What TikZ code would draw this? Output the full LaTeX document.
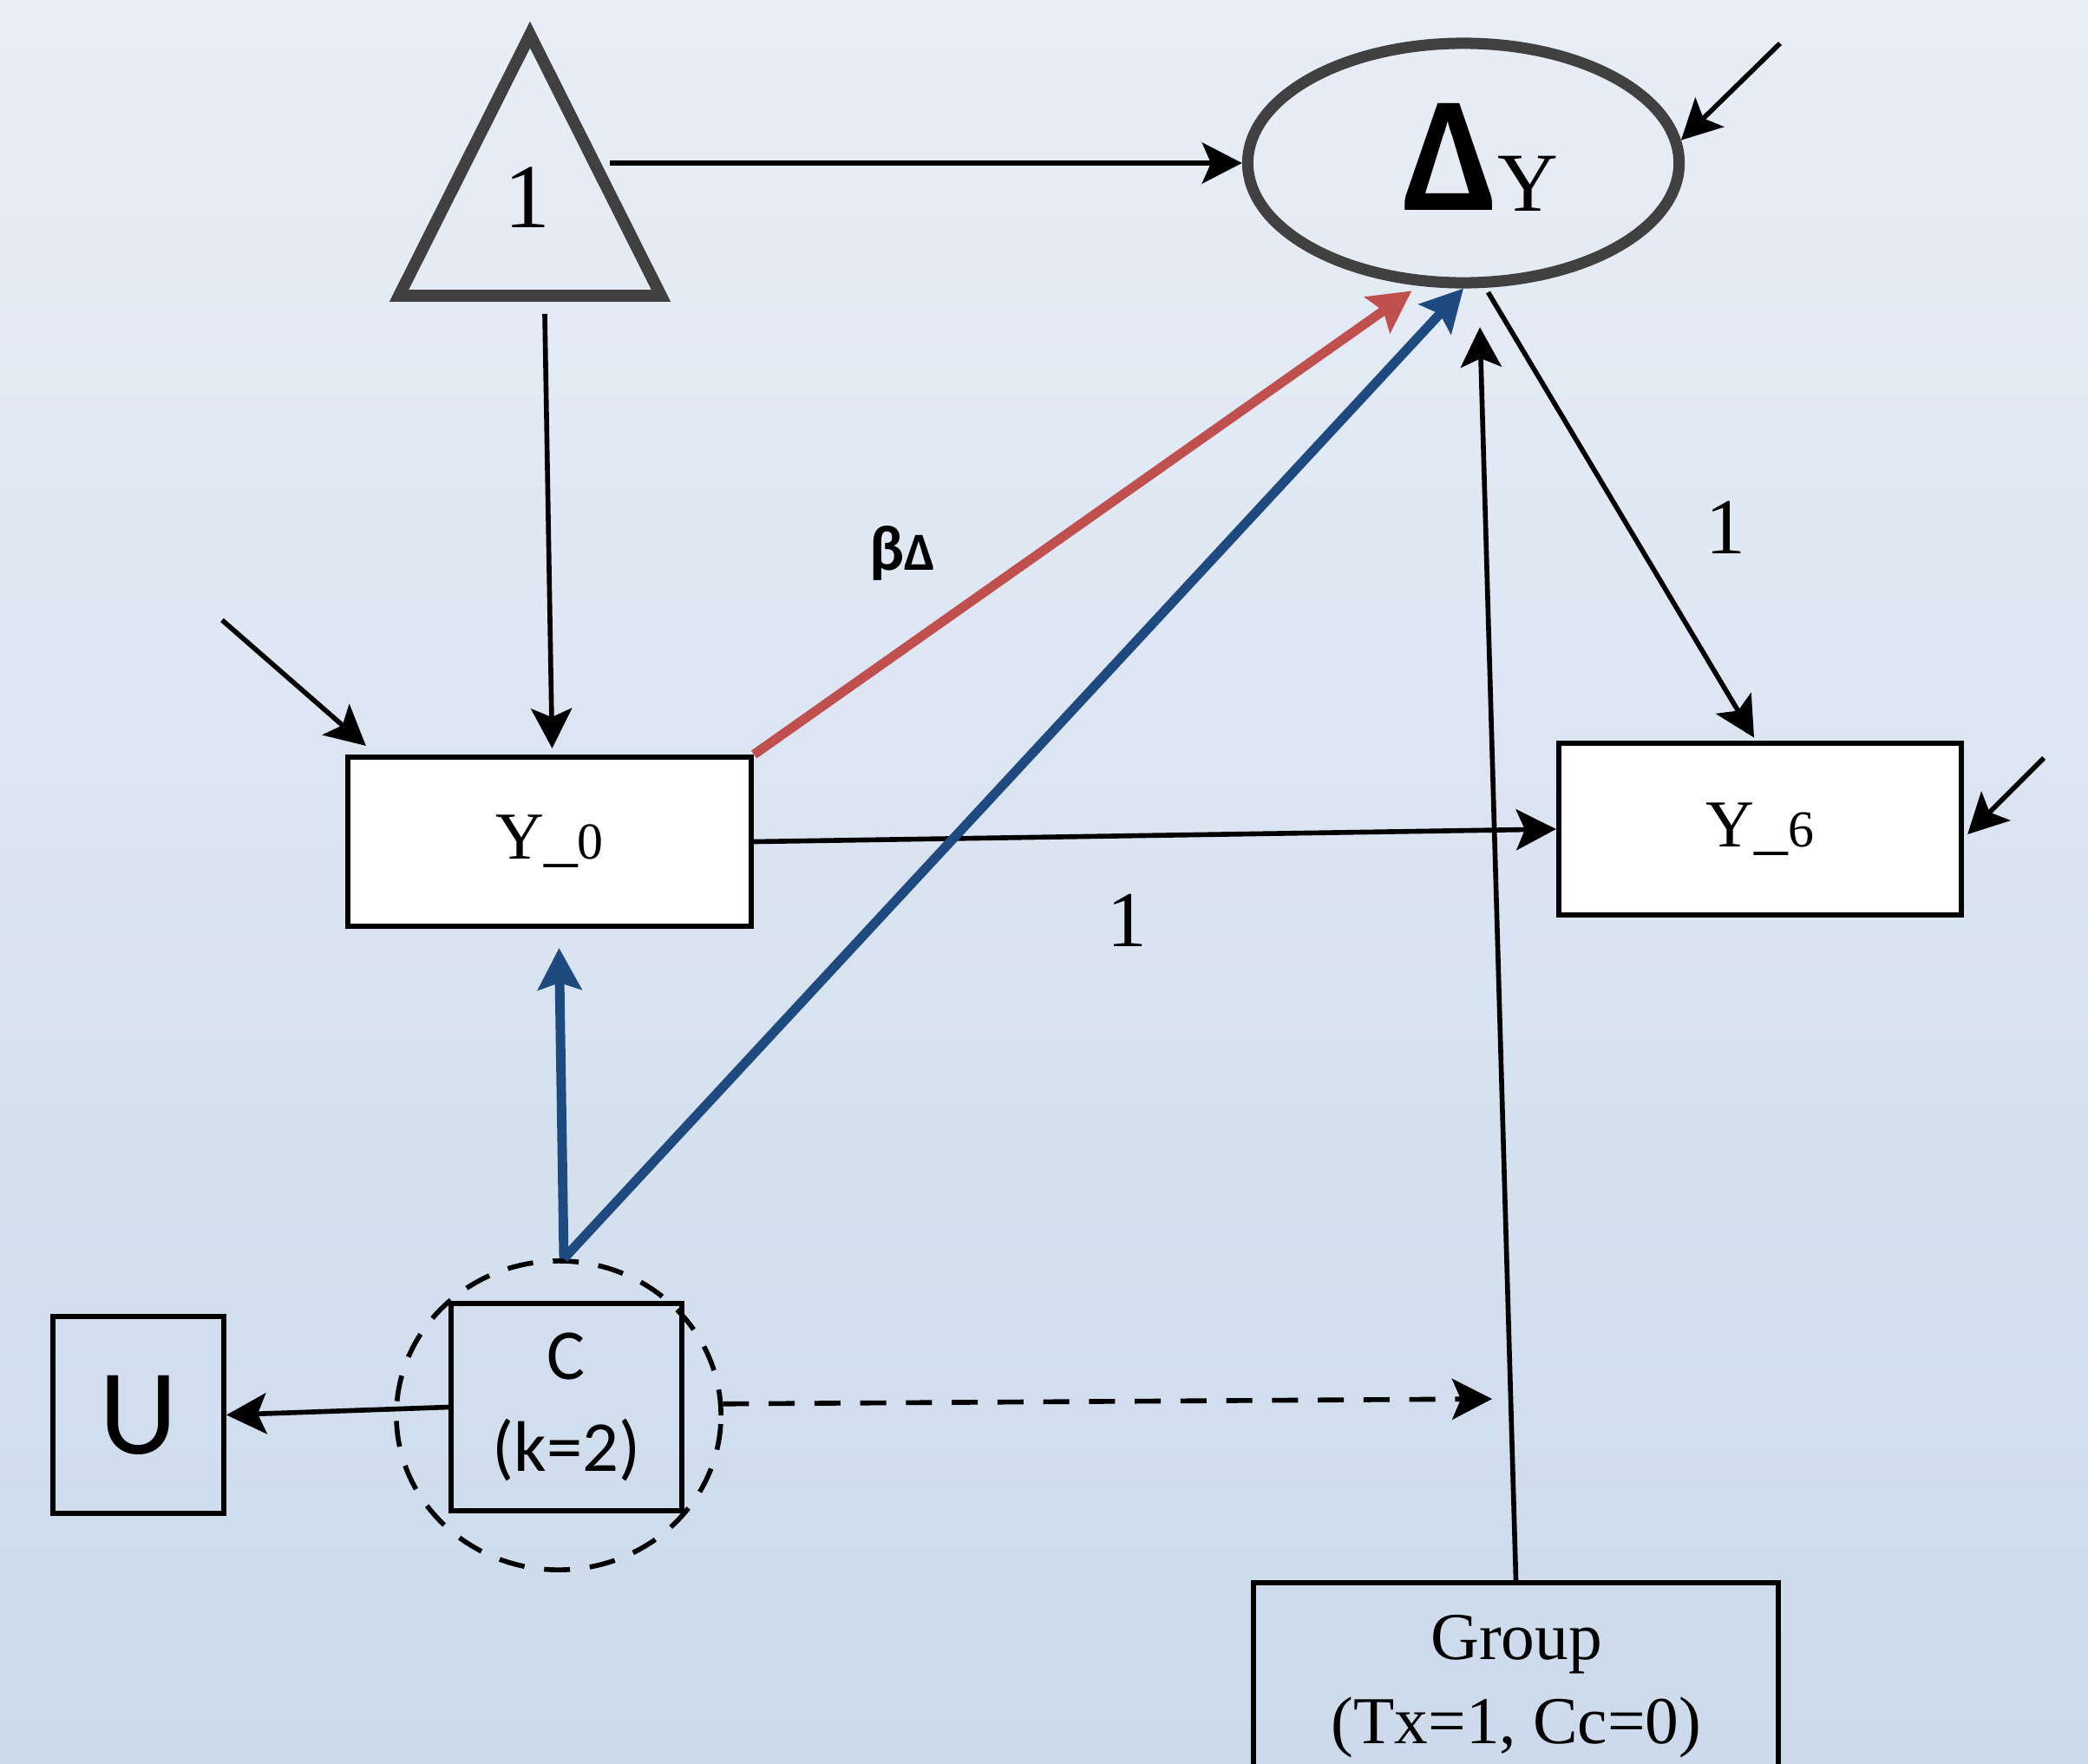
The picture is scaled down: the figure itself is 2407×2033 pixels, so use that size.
\documentclass[tikz,border=0pt]{standalone}
\usepackage{fontspec}
\setmainfont{Liberation Serif}
\newfontfamily\carlfont{Carlito}
\usetikzlibrary{arrows.meta,shapes.geometric,calc}
\definecolor{bgtop}{HTML}{E8EEF7}
\definecolor{bgbot}{HTML}{CCDAEB}
\definecolor{dgray}{HTML}{404040}
\definecolor{myblue}{HTML}{1F4A80}
\definecolor{myred}{HTML}{C0504D}
\newcommand\myfs[2]{\fontsize{#1}{#2}\selectfont}
\newcommand\ylab[1]{{\myfs{22}{22}Y\_}{\myfs{17}{17}#1}}
\tikzset{
  arr/.style={-{Stealth[length=0.46cm,width=0.47cm,inset=0.1cm]}, line width=1.6pt, black},
  barr/.style={-{Stealth[length=0.48cm,width=0.5cm,inset=0.08cm]}, line width=3.1pt, myblue},
  rarr/.style={-{Stealth[length=0.48cm,width=0.5cm,inset=0.08cm]}, line width=3.1pt, myred},
  boxnode/.style={draw, line width=1.7pt, inner sep=0pt},
  dsh/.style={dash pattern=on 8.5pt off 6.5pt},
}
\begin{document}
\begin{tikzpicture}[x=0.01cm,y=-0.01cm]
\useasboundingbox (0,0) rectangle (2407,2033);
\clip (0,0) rectangle (2407,2033);
\shade[top color=bgtop, bottom color=bgbot] (0,0) rectangle (2407,2033);

% triangle (constant 1)
\draw[dgray, line width=3.9pt, line join=miter] (611,40) -- (762,341) -- (460,341) -- cycle;
\node[anchor=base, font=\myfs{30}{30}] (tlab) at (608,262) {1};
\coordinate (ta) at (703,188);
\coordinate (tb) at (628,362);

% nodes
\node[ellipse, draw=dgray, line width=3.7pt, minimum width=4.97cm, minimum height=2.76cm, inner sep=0pt] (dy) at (1687,188) {};
\node[anchor=base, inner sep=0pt, font={\carlfont\bfseries\myfs{54}{54}}] (dlt) at (1672,242) {Δ};
\node[anchor=base, inner sep=0pt, font=\myfs{27.5}{27.5}] (dyy) at (1761,243) {Y};

\node[boxnode, fill=white, minimum width=4.65cm, minimum height=1.95cm] (y0) at (633.5,970.5) {\ylab{0}};
\node[boxnode, fill=white, minimum width=4.64cm, minimum height=1.97cm] (y6) at (2029,956) {\ylab{6}};
\node[boxnode, minimum width=1.97cm, minimum height=2.27cm, font={\carlfont\myfs{40}{40}}] (u) at (159.5,1631.5) {U};
\node[boxnode, minimum width=2.66cm, minimum height=2.39cm, align=center, font={\carlfont\myfs{23.5}{30}}] (c) at (653,1622.5) {C\\(k=2)};
\node[ellipse, draw, dsh, line width=1.6pt, minimum width=3.74cm, minimum height=3.56cm, inner sep=0pt] (cc) at (644,1632) {};
\node[boxnode, anchor=north, minimum width=6.05cm, minimum height=3cm] (grp) at (1747.5,1822) {};
\node[anchor=base, font=\myfs{22}{22}] (gt1) at (1748,1913) {Group};
\node[anchor=base, font=\myfs{22}{22}] (gt2) at (1748,2010) {(Tx=1, Cc=0)};

% labels
\node[anchor=base, inner sep=0pt] (beta) at (1040,657) {{\carlfont\bfseries\myfs{21}{21}β}{\carlfont\bfseries\myfs{17.6}{17.6}Δ}};
\node[anchor=base, font=\myfs{26}{26}] (l1) at (1299,1091) {1};
\node[anchor=base, font=\myfs{26}{26}] (l2) at (1989,638) {1};

% free ends
\coordinate (in1) at (256,715);
\coordinate (in2) at (2052,50);
\coordinate (in3) at (2356,874);
\coordinate (dtip) at (1720,1613);

% connectors
\draw[arr] (ta) -- (dy.west);
\draw[arr] (tb) -- ($(y0.north)+(3,-7)$);
\draw[arr] (in1) -- ($(y0.north west)+(24,-10)$);
\draw[arr] (in2) -- (dy.6);
\draw[arr] (in3) -- ($(y6.east)+(4,6)$);
\draw[arr] (y0.east) -- (y6.west);
\draw[arr, shorten <=0.06cm] (dy.280) -- ($(y6.north)+(-7,-4)$);
\draw[arr, shorten >=0.45cm] (grp.north) -- (dy.277);
\draw[arr] (c.west) -- (u.east);
\draw[arr, dsh] (cc.4) -- (dtip);
\draw[rarr, shorten >=0.1cm] (y0.north east) -- (dy.250);
\draw[barr] ($(cc.north)+(6,0)$) -- (dy.270);
\draw[barr] ($(cc.north)+(6,0)$) -- ($(y0.south)+(11,22)$);
\end{tikzpicture}
\end{document}
